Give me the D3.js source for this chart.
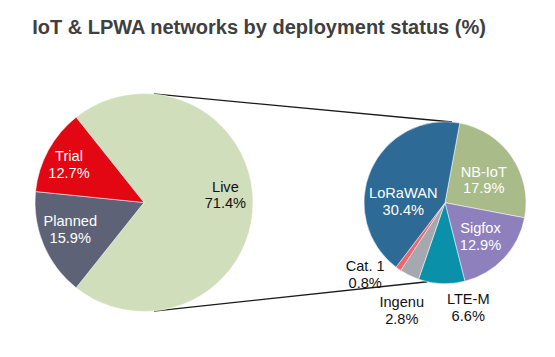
<!DOCTYPE html>
<html><head><meta charset="utf-8">
<script src="https://cdn.jsdelivr.net/npm/d3@7"></script>
<style>body{margin:0;background:#fff}svg{display:block}text{font-family:"Liberation Sans",Arial,sans-serif}</style>
</head><body>
<svg id="c" width="555" height="357"></svg>
<script>
const title = "IoT & LPWA networks by deployment status (%)";
const statusLabels = ["Live", "Planned", "Trial"];
const statusValues = [71.4, 15.9, 12.7];
const techLabels = ["NB-IoT", "Sigfox", "LTE-M", "Ingenu", "Cat. 1", "LoRaWAN"];
const techValues = [17.9, 12.9, 6.6, 2.8, 0.8, 30.4];

const statusColors = {"Live":"#D0DEBB","Planned":"#5E6277","Trial":"#E30613"};
const techColors = {"NB-IoT":"#A8BB89","Sigfox":"#8E80BD","LTE-M":"#0A90A8","Ingenu":"#A6A8B0","Cat. 1":"#F2636B","LoRaWAN":"#2E6A96"};
const textColors = {"Live":"#111","Planned":"#fff","Trial":"#fff","NB-IoT":"#fff","Sigfox":"#fff","LoRaWAN":"#fff","LTE-M":"#111","Ingenu":"#111","Cat. 1":"#111"};
// label placement: angle (deg, clockwise from top) and distance (fraction of radius)
const labelPlace = {
  "Live":{a:84.8,r:0.75},"Planned":{a:-110,r:0.72},"Trial":{a:-63.3,r:0.77},
  "LoRaWAN":{a:-88.6,r:0.515},"NB-IoT":{a:59.5,r:0.555},"Sigfox":{a:133.6,r:0.605},
  "LTE-M":{a:167.5,r:1.325},"Ingenu":{a:201.8,r:1.437},"Cat. 1":{a:228,r:1.326}
};

const svg = d3.select("#c");
const rad = Math.PI/180;

svg.append("text").attr("x",259).attr("y",33.5).attr("text-anchor","middle")
  .attr("font-size",20).attr("font-weight","bold").attr("fill","#404040").text(title);

const L = {cx:144, cy:202.5, r:109};
const R = {cx:445, cy:202.7, r:81};

const liveShare = statusValues[0]/d3.sum(statusValues)*360;
const leftStart = 90 - liveShare/2;
const pieL = d3.pie().sort(null).value(d=>d.v).startAngle(leftStart*rad).endAngle((leftStart+360)*rad);
const pieR = d3.pie().sort(null).value(d=>d.v).startAngle(10.5*rad).endAngle(370.5*rad);

const leftData = pieL(statusLabels.map((k,i)=>({k, v:statusValues[i]})));
const rightData = pieR(techLabels.map((k,i)=>({k, v:techValues[i]})));

const pt = (p, a, r) => [p.cx + r*Math.sin(a*rad), p.cy - r*Math.cos(a*rad)];

// connector lines
const conn = svg.append("g").attr("stroke","#1a1a1a").attr("stroke-width",1.3);
[[5.2,5],[174.8,192.6]].forEach(([a1,a2])=>{
  const p1 = pt(L,a1,L.r), p2 = pt(R,a2,R.r);
  conn.append("line").attr("x1",p1[0]).attr("y1",p1[1]).attr("x2",p2[0]).attr("y2",p2[1]);
});

function drawPie(p, data, colors){
  const arc = d3.arc().innerRadius(0).outerRadius(p.r);
  const g = svg.append("g").attr("transform",`translate(${p.cx},${p.cy})`);
  g.selectAll("path").data(data).join("path").attr("d",arc)
    .attr("fill",d=>colors[d.data.k]).attr("stroke","#fff").attr("stroke-width",0.5);
  const lab = svg.append("g");
  data.forEach(d=>{
    const lp = labelPlace[d.data.k];
    const [x,y] = pt(p, lp.a, lp.r*p.r);
    const t = lab.append("text").attr("x",x).attr("y",y).attr("text-anchor","middle")
      .attr("font-size",14.6).attr("fill",textColors[d.data.k]);
    t.append("tspan").attr("x",x).attr("dy",-3.3).text(d.data.k);
    t.append("tspan").attr("x",x).attr("dy",16.7).text(d.data.v.toFixed(1)+"%");
  });
}
drawPie(L, leftData, statusColors);
drawPie(R, rightData, techColors);
</script>
</body></html>
